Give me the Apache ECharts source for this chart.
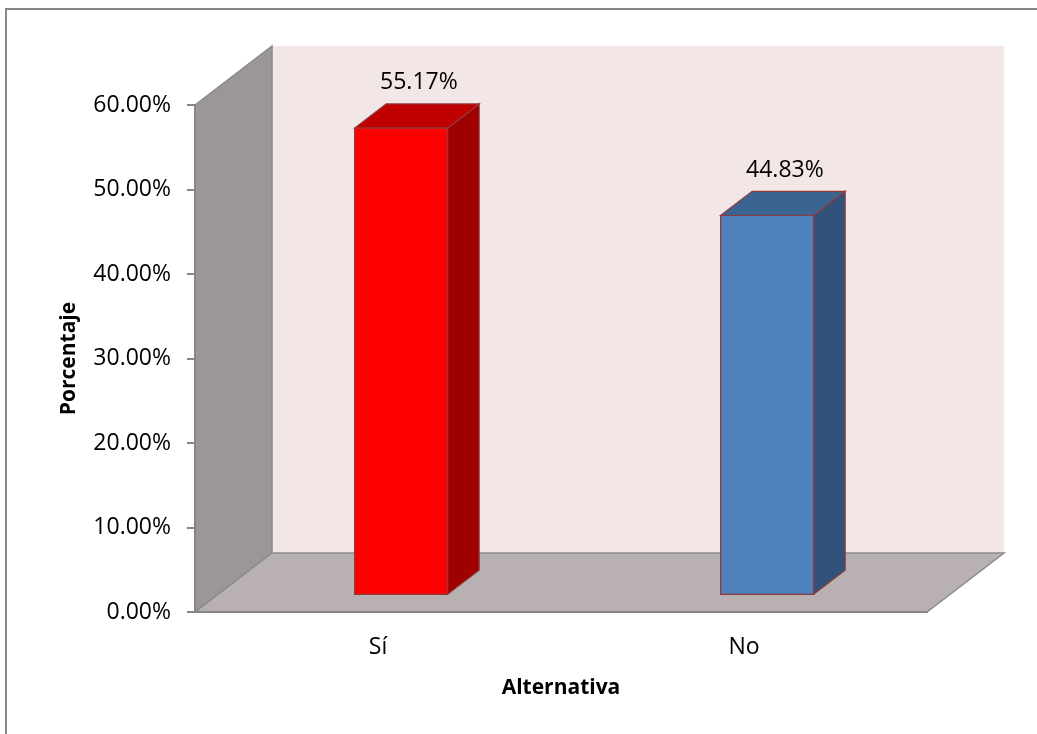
<!DOCTYPE html>
<html>
<head>
<meta charset="utf-8">
<script src="https://cdn.jsdelivr.net/npm/echarts@6/dist/echarts.min.js"></script>
<style>
html, body { margin: 0; padding: 0; background: #fff; }
#chart { width: 1037px; height: 734px; }
</style>
</head>
<body>
<div id="chart"></div>
<script>
// datos
var categorias = ['Sí', 'No'];
var porcentajes = [0.5517, 0.4483];
var ejeMin = 0, ejeMax = 0.6, ejeIntervalo = 0.1;

var caras = [
    { frente: '#ff0000', arriba: '#c00000', lado: '#a00000' },
    { frente: '#4f81bd', arriba: '#3c6491', lado: '#31527a' }
];

// profundidad del efecto 3D (px)
var DX = 77, DY = -59;
var P0 = 0.3, P1 = 0.71, ANCHO = 0.254;
var fuente = 'Open Sans';

function pct(v) { return (v * 100).toFixed(2) + '%'; }

var myChart = echarts.init(document.getElementById('chart'), null, { renderer: 'canvas' });

myChart.setOption({
    backgroundColor: '#ffffff',
    animation: false,
    textStyle: { fontFamily: fuente, color: '#000' },
    graphic: [{
        type: 'rect',
        shape: { x: 6, y: 9, width: 1040, height: 740 },
        style: { fill: 'none', stroke: '#888888', lineWidth: 2 },
        silent: true
    }],
    grid: { left: 195, top: 105, width: 732, height: 507, containLabel: false, outerBoundsMode: 'none' },
    xAxis: {
        type: 'category',
        data: categorias,
        z: 10,
        name: 'Alternativa',
        nameLocation: 'middle',
        nameGap: 66,
        nameTextStyle: { fontFamily: fuente, fontSize: 21, fontWeight: 'bold', color: '#000' },
        axisLine: { show: true, lineStyle: { color: '#868686', width: 2 } },
        axisTick: { show: false },
        axisLabel: { fontFamily: fuente, fontSize: 23, color: '#000', margin: 24 }
    },
    yAxis: {
        type: 'value',
        min: ejeMin,
        max: ejeMax,
        interval: ejeIntervalo,
        z: 10,
        name: 'Porcentaje',
        nameLocation: 'middle',
        nameGap: 115,
        nameRotate: 90,
        nameTextStyle: { fontFamily: fuente, fontSize: 21, fontWeight: 'bold', color: '#000' },
        axisLine: { show: true, lineStyle: { color: '#868686', width: 2 } },
        axisTick: { show: true, length: 8, lineStyle: { color: '#868686', width: 2 } },
        splitLine: { show: false },
        axisLabel: { fontFamily: fuente, fontSize: 23, color: '#000', margin: 24, formatter: pct }
    },
    series: [
        {
            // paredes y piso
            type: 'custom',
            z: 1,
            silent: true,
            data: [[0, 0]],
            renderItem: function (params, api) {
                var cs = params.coordSys;
                var x0 = cs.x, x1 = cs.x + cs.width;
                var yT = cs.y, yB = cs.y + cs.height;
                var borde = { stroke: '#8a8a8a', lineWidth: 1.5 };
                return {
                    type: 'group',
                    children: [
                        {
                            type: 'polygon',
                            shape: { points: [[x0 + DX, yT + DY], [x1 + DX, yT + DY], [x1 + DX, yB + DY], [x0 + DX, yB + DY]] },
                            style: { fill: '#f3e6e7', stroke: null }
                        },
                        {
                            type: 'polygon',
                            shape: { points: [[x0, yB], [x0, yT], [x0 + DX, yT + DY], [x0 + DX, yB + DY]] },
                            style: Object.assign({ fill: '#9d9696' }, borde)
                        },
                        {
                            type: 'polygon',
                            shape: { points: [[x0, yB], [x1, yB], [x1 + DX, yB + DY], [x0 + DX, yB + DY]] },
                            style: Object.assign({ fill: '#b9b1b1' }, borde)
                        }
                    ]
                };
            }
        },
        {
            // barras 3D
            type: 'custom',
            z: 5,
            data: porcentajes.map(function (v, i) { return [i, v]; }),
            encode: { x: 0, y: 1 },
            renderItem: function (params, api) {
                var i = api.value(0);
                var base = api.coord([i, 0]);
                var tope = api.coord([i, api.value(1)]);
                var banda = api.size([1, 0])[0];
                var w = banda * ANCHO;
                var x0 = base[0] - w / 2 + P0 * DX;
                var yb = base[1] + P0 * DY;
                var yt = tope[1] + P0 * DY;
                var dx = (P1 - P0) * DX, dy = (P1 - P0) * DY;
                var c = caras[i];
                var borde = '#8e3b3b';
                return {
                    type: 'group',
                    children: [
                        {
                            type: 'polygon',
                            shape: { points: [[x0 + w, yt], [x0 + w + dx, yt + dy], [x0 + w + dx, yb + dy], [x0 + w, yb]] },
                            style: { fill: c.lado, stroke: borde, lineWidth: 1.2 }
                        },
                        {
                            type: 'polygon',
                            shape: { points: [[x0, yt], [x0 + w, yt], [x0 + w + dx, yt + dy], [x0 + dx, yt + dy]] },
                            style: { fill: c.arriba, stroke: borde, lineWidth: 1.2 }
                        },
                        {
                            type: 'rect',
                            shape: { x: x0, y: yt, width: w, height: yb - yt },
                            style: { fill: c.frente, stroke: borde, lineWidth: 1.2 }
                        },
                        {
                            type: 'text',
                            x: x0 + w / 2 + dx / 2 + 2,
                            y: yt + dy - 21,
                            style: {
                                text: pct(api.value(1)),
                                fontFamily: fuente,
                                fontSize: 23,
                                fill: '#000',
                                align: 'center',
                                verticalAlign: 'middle'
                            }
                        }
                    ]
                };
            }
        }
    ]
});
</script>
</body>
</html>
